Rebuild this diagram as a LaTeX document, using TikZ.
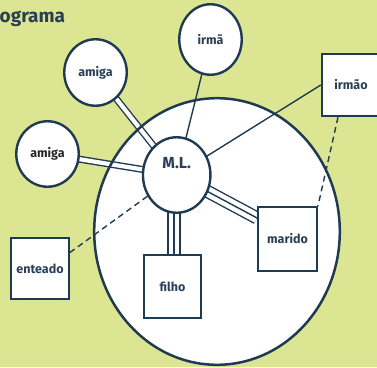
\documentclass[tikz,border=0pt]{standalone}
\usepackage{fontspec}
\setmainfont{Fira Sans}
\usetikzlibrary{shapes.geometric}
\pgfdeclarelayer{bg}
\pgfdeclarelayer{lines}
\pgfsetlayers{bg,lines,main}
\definecolor{navy}{HTML}{1F3B53}
\definecolor{txt}{HTML}{2A3F55}
\definecolor{leaf}{HTML}{DCE592}
\tikzset{
  persona/.style={ellipse, draw=navy, line width=2.4pt, fill=white, inner sep=0pt,
    text=txt, font=\fontsize{12.5}{14}\selectfont\bfseries},
  caixa/.style={rectangle, draw=navy, line width=2.4pt, fill=white, inner sep=0pt,
    text=txt, font=\fontsize{12.5}{14}\selectfont\bfseries},
  conn/.style={draw=navy, line width=1.4pt},
  dbl/.style={draw=navy, line width=1.4pt, double=white, double distance=4.2pt},
  trpl/.style={draw=navy, line width=1.4pt, double=white, double distance=10.4pt},
  dsh/.style={draw=navy, line width=1.4pt, dash pattern=on 6pt off 4pt},
}
\begin{document}
\begin{tikzpicture}[x=1pt, y=-1pt]
\useasboundingbox (0,0) rectangle (377,367);
\begin{pgfonlayer}{bg}
\fill[leaf] (0,0) rectangle (377,367);
\fill[white] (217,231.5) ellipse [x radius=122.8pt, y radius=133.3pt];
\end{pgfonlayer}
\draw[navy, line width=2.5pt] (217,231.5) ellipse [x radius=122.8pt, y radius=133.3pt];

\node[anchor=base west, inner sep=0pt, text=txt, font=\fontsize{19}{22}\selectfont\bfseries] (titulo) at (-0.5,22.5) {ograma};

\node[persona, minimum width=62.5pt, minimum height=66.5pt] (amigaA) at (95.5,72.5) {amiga};
\node[persona, minimum width=62.5pt, minimum height=65.5pt, text=black!85] (amigaB) at (47.5,154) {amiga};
\node[persona, minimum width=62.5pt, minimum height=70.5pt] (irma) at (210.5,39.5) {irmã};
\node[persona, minimum width=67.5pt, minimum height=75.5pt, font=\fontsize{16}{18}\selectfont\bfseries] (ML) at (176.7,175) {\smash{\raisebox{6.5pt}{M.L.}}};

\node[caixa, minimum width=58pt, minimum height=62pt] (irmao) at (351,85) {irmão};
\node[caixa, minimum width=58.5pt, minimum height=63.5pt] (marido) at (287.5,239) {marido};
\node[caixa, minimum width=56.5pt, minimum height=62.5pt] (filho) at (172.5,286.5) {filho};
\node[caixa, minimum width=57.5pt, minimum height=60.5pt] (enteado) at (40,268.5) {enteado};

\coordinate (mcon) at ([yshift=21pt]marido.west);
\coordinate (econ) at ([yshift=16pt]enteado.east);
\coordinate (icon) at ([xshift=-13pt]irmao.south);
\coordinate (ftop) at ([xshift=1.5pt]filho.north);

\begin{pgfonlayer}{lines}
\draw[dbl] (amigaA.center) -- (ML.center);
\draw[dbl] (amigaB.center) -- (ML.center);
\draw[conn] (irma.center) -- (ML.center);
\draw[conn] (irmao.west) -- (ML.center);
\draw[trpl] (ML.center) -- (mcon);
\draw[conn] (ML.center) -- (mcon);
\draw[trpl] (ftop) -- (ftop |- ML.center);
\draw[conn] (ftop) -- (ftop |- ML.center);
\draw[dsh] (ML) -- (econ);
\draw[dsh] (icon) -- (marido.north east);
\end{pgfonlayer}
\end{tikzpicture}
\end{document}
